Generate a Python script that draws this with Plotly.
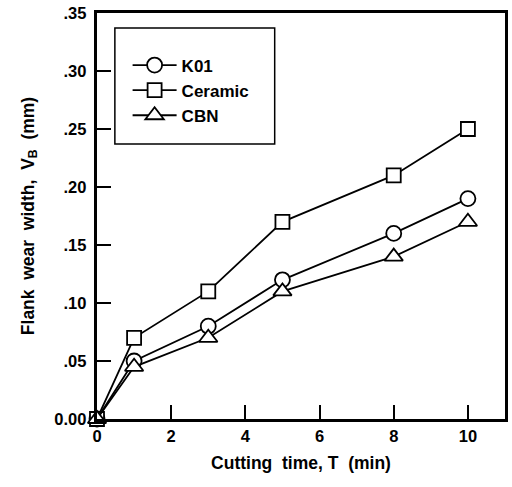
import plotly.graph_objects as go

time_min = [0, 1, 3, 5, 8, 10]
k01 = [0.0, 0.05, 0.08, 0.12, 0.16, 0.19]
ceramic = [0.0, 0.07, 0.11, 0.17, 0.21, 0.25]
cbn = [0.0, 0.045, 0.07, 0.11, 0.14, 0.17]

x_ticks = [0, 2, 4, 6, 8, 10]
y_ticks = [0.0, 0.05, 0.10, 0.15, 0.20, 0.25, 0.30, 0.35]
y_tick_text = ["0.00", ".05", ".10", ".15", ".20", ".25", ".30", ".35"]

FONT = "Liberation Sans, Arial, sans-serif"
PAD = "<span style='color:rgba(0,0,0,0)'>.</span>"

fig = go.Figure()
series = [("K01", k01, "circle", 15), ("Ceramic", ceramic, "square", 14), ("CBN", cbn, "triangle-up", 16)]
for name, vals, sym, sz in series:
    fig.add_trace(go.Scatter(
        x=time_min, y=vals, name=name, mode="lines+markers",
        line=dict(color="black", width=1.8),
        marker=dict(symbol=sym, size=sz, color="white", line=dict(color="black", width=1.8)),
        cliponaxis=False,
    ))

axis_common = dict(
    showline=True, linecolor="black", linewidth=2.5, mirror=True,
    ticks="inside", ticklen=14, tickwidth=1.5, tickcolor="black",
    showgrid=False, zeroline=False,
    tickfont=dict(family=FONT, size=16.5, color="black", weight="bold"),
)

fig.update_layout(
    width=512, height=487,
    margin=dict(l=97, r=4, t=13, b=68),
    paper_bgcolor="white", plot_bgcolor="white",
    showlegend=True,
    legend=dict(
        x=0.075, y=0.915, xanchor="left", yanchor="top",
        bgcolor="rgba(0,0,0,0)", borderwidth=0,
        font=dict(family=FONT, size=17, color="black", weight="bold"),
        tracegroupgap=0, itemwidth=44,
    ),
    xaxis=dict(range=[0, 11], tickvals=x_ticks, ticktext=[str(v) for v in x_ticks],
               title=dict(text="Cutting  time, T  (min)", standoff=14,
                          font=dict(family=FONT, size=17.5, color="black", weight="bold")),
               **axis_common),
    yaxis=dict(range=[0, 0.35], tickvals=y_ticks,
               ticktext=[t + PAD for t in y_tick_text],
               title=dict(text="Flank  wear  width,  V<sub>B</sub>  (mm)", standoff=16,
                          font=dict(family=FONT, size=17.5, color="black", weight="bold")),
               **axis_common),
)

# legend frame
fig.add_shape(type="rect", xref="paper", yref="paper",
              x0=(115 - 97) / 411, x1=(276 - 97) / 411,
              y0=(419 - 144) / 406, y1=(419 - 28) / 406,
              line=dict(color="black", width=1.5), fillcolor="rgba(0,0,0,0)")

fig.write_html("out.html")
